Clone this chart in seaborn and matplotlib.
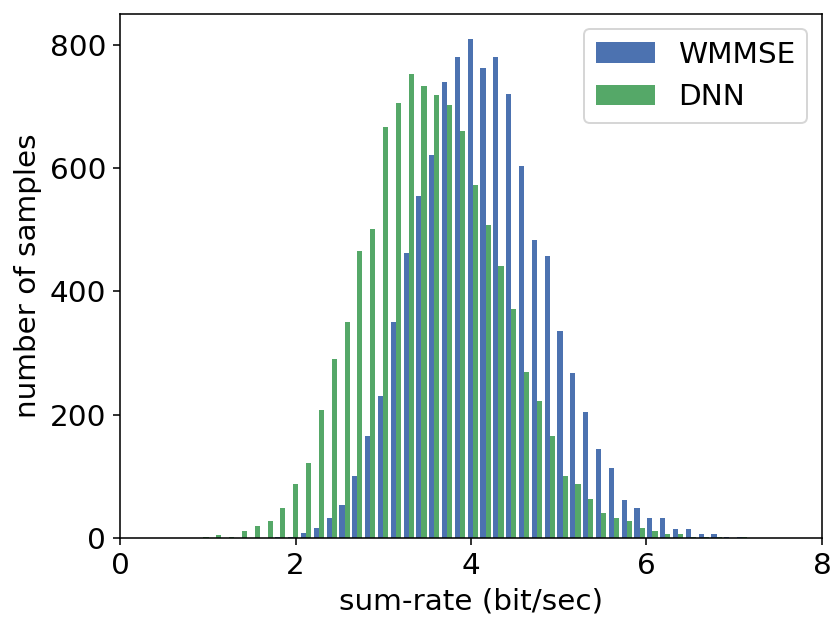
import numpy as np
import pandas as pd
import seaborn as sns
import matplotlib.pyplot as plt

# Histogram bins (50 bins of equal width, sum-rate in bit/sec)
n_bins = 50
rate_range = (0, 7.31)
bin_edges = np.linspace(rate_range[0], rate_range[1], n_bins + 1)
bin_centers = (bin_edges[:-1] + bin_edges[1:]) / 2

# Number of samples per bin
wmmse_counts = [0, 0, 0, 0, 0, 0, 0, 0, 0, 0,
                0, 0, 1, 2, 8, 16, 33, 54, 101, 166,
                231, 351, 463, 554, 622, 739, 781, 810, 762, 780,
                720, 603, 484, 458, 335, 268, 204, 144, 114, 61,
                48, 32, 33, 15, 14, 7, 6, 2, 1, 0]
dnn_counts = [0, 0, 0, 0, 0, 0, 1, 5, 1, 11,
              20, 28, 49, 87, 122, 207, 290, 351, 465, 501,
              666, 705, 752, 734, 718, 703, 660, 572, 507, 442,
              372, 270, 223, 165, 101, 88, 64, 40, 32, 28,
              17, 11, 6, 6, 1, 1, 1, 0, 1, 0]
methods = ["WMMSE", "DNN"]
colors = ["#4C72B0", "#55A868"]  # old seaborn-deep blue / green

df = pd.DataFrame({
    "rate": np.concatenate([bin_centers, bin_centers]),
    "count": wmmse_counts + dnn_counts,
    "method": [methods[0]] * n_bins + [methods[1]] * n_bins,
})

plt.rcParams["font.family"] = ["DejaVu Sans"]
plt.rcParams["font.size"] = 15

dpi = 141.5
fig = plt.figure(figsize=(833 / dpi, 617 / dpi), dpi=dpi)
ax = fig.add_axes([120 / 833, 79 / 617, 702 / 833, 524 / 617])

sns.histplot(data=df, x="rate", weights="count", hue="method", hue_order=methods,
             palette=colors, bins=n_bins, binrange=rate_range, multiple="dodge",
             shrink=0.8, alpha=1, linewidth=0, ax=ax)

ax.set_xlim(0, 8)
ax.set_ylim(0, 850)
ax.set_xlabel("sum-rate (bit/sec)", fontsize=15)
ax.set_ylabel("number of samples", fontsize=15)
ax.tick_params(labelsize=15)
sns.move_legend(ax, "upper right", title=None, fontsize=15, frameon=True)

fig.savefig("out.png", dpi=dpi)
